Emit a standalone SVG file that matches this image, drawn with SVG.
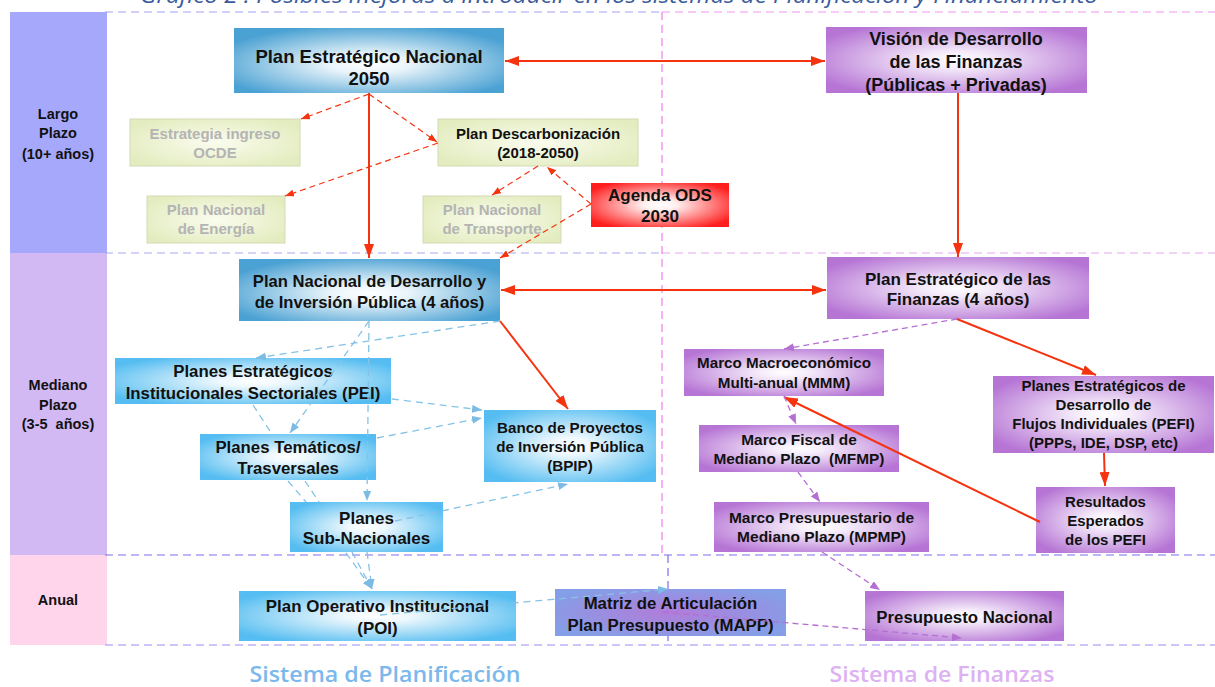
<svg xmlns="http://www.w3.org/2000/svg" width="1215" height="687" viewBox="0 0 1215 687">
<style>
.t{font-family:"Liberation Sans",Arial,sans-serif;font-weight:bold;text-anchor:middle;fill:#111}
.g{fill:#b4b4b4}
.lab{font-family:"Liberation Sans",Arial,sans-serif;font-weight:bold;text-anchor:middle;fill:#111;font-size:14.5px}
.sys{font-family:"Open Sans","Liberation Sans",sans-serif;font-weight:600;font-size:22px;text-anchor:middle}
.rs{stroke:#f5330f;stroke-width:2;fill:none}
.rd{stroke:#f5330f;stroke-width:1.2;fill:none;stroke-dasharray:6 4}
.bd{stroke:#86c2e6;stroke-width:1.3;fill:none;stroke-dasharray:7 5}
.pd{stroke:#b46fd2;stroke-width:1.3;fill:none;stroke-dasharray:6 4}
.gr{stroke:#d5d9b5;stroke-width:1}
</style>
<defs>
<radialGradient id="gBD" cx="0.5" cy="0.55" r="0.6"><stop offset="0" stop-color="#ffffff"/><stop offset="0.25" stop-color="#e9f4fa"/><stop offset="1" stop-color="#4aa1d3"/></radialGradient>
<radialGradient id="gBL" cx="0.5" cy="0.5" r="0.6"><stop offset="0" stop-color="#ffffff"/><stop offset="0.2" stop-color="#eef8fd"/><stop offset="1" stop-color="#55bdf1"/></radialGradient>
<radialGradient id="gP" cx="0.5" cy="0.5" r="0.6"><stop offset="0" stop-color="#ffffff"/><stop offset="0.2" stop-color="#f5ecfa"/><stop offset="1" stop-color="#b675d5"/></radialGradient>
<radialGradient id="gG" cx="0.5" cy="0.5" r="0.6"><stop offset="0" stop-color="#fafcee"/><stop offset="1" stop-color="#e3ecbf"/></radialGradient>
<radialGradient id="gR" cx="0.5" cy="0.5" r="0.6"><stop offset="0" stop-color="#ffffff"/><stop offset="0.2" stop-color="#fff0f0"/><stop offset="1" stop-color="#ff1e1e"/></radialGradient>
<radialGradient id="gM" cx="0.5" cy="0.5" r="0.6"><stop offset="0" stop-color="#b17cd9"/><stop offset="1" stop-color="#849fe7"/></radialGradient>
<marker id="aR" viewBox="0 0 14 10" refX="14" refY="5" markerWidth="14" markerHeight="10" markerUnits="userSpaceOnUse" orient="auto-start-reverse"><path d="M0,0 L14,5 L0,10 z" fill="#f5330f"/></marker>
<marker id="aRd" viewBox="0 0 9 7" refX="9" refY="3.5" markerWidth="9" markerHeight="7" markerUnits="userSpaceOnUse" orient="auto"><path d="M0,0 L9,3.5 L0,7 z" fill="#f5330f"/></marker>
<marker id="aB" viewBox="0 0 10 8" refX="10" refY="4" markerWidth="10" markerHeight="8" markerUnits="userSpaceOnUse" orient="auto"><path d="M0,0 L10,4 L0,8 z" fill="#7cbce4"/></marker>
<marker id="aP" viewBox="0 0 10 8" refX="10" refY="4" markerWidth="10" markerHeight="8" markerUnits="userSpaceOnUse" orient="auto"><path d="M0,0 L10,4 L0,8 z" fill="#b46fd2"/></marker>
</defs>
<rect width="1215" height="687" fill="#ffffff"/>
<text x="619" y="3" font-family="Open Sans, Liberation Sans, sans-serif" font-style="italic" font-size="22" fill="#3a5c9c" text-anchor="middle" textLength="958" lengthAdjust="spacingAndGlyphs">Gráfico 2 : Posibles mejoras a introducir en los sistemas de Planificación y Financiamiento</text>
<g id="bands">
<rect x="10" y="12" width="97" height="241" fill="#a6a8fc"/>
<rect x="10" y="253" width="97" height="302" fill="#d3b9f4"/>
<rect x="10" y="555" width="97" height="90" fill="#ffd5ec"/>
<text class="lab" x="58" y="119">Largo</text>
<text class="lab" x="58" y="138">Plazo</text>
<text class="lab" x="58" y="159">(10+ años)</text>
<text class="lab" x="58" y="390">Mediano</text>
<text class="lab" x="58" y="410">Plazo</text>
<text class="lab" x="58" y="429" xml:space="preserve">(3-5  años)</text>
<text class="lab" x="58" y="605">Anual</text>
</g>
<g id="dividers" fill="none" stroke-width="1.2" stroke-dasharray="8 5">
<path d="M105,12 H662" stroke="#a2a2f6"/>
<path d="M662,12 H1215" stroke="#f096ef"/>
<path d="M105,253 H662" stroke="#a8a6f4"/>
<path d="M662,253 H1215" stroke="#e6a6f0"/>
<path d="M105,555 H1215" stroke="#7b6cee"/>
<path d="M105,645 H1215" stroke="#9a8cf3"/>
<path d="M662,12 V555" stroke="#f07cee"/>
<path d="M668,555 V645" stroke="#7b6cee"/>
</g>
<g id="n-pen"><rect x="234" y="28" width="270" height="65" fill="url(#gBD)"/><text class="t" font-size="18.5" x="369" y="63">Plan Estratégico Nacional</text><text class="t" font-size="18.5" x="369" y="85">2050</text></g>
<g id="n-vision"><rect x="826" y="27" width="261" height="66" fill="url(#gP)"/><text class="t" font-size="18" x="956" y="45">Visión de Desarrollo</text><text class="t" font-size="18" x="956" y="68">de las Finanzas</text><text class="t" font-size="18" x="956" y="91">(Públicas + Privadas)</text></g>
<g id="n-ocde"><rect class="gr" x="130" y="119" width="170" height="47" fill="url(#gG)"/><text class="t g" font-size="15" x="215" y="139">Estrategia ingreso</text><text class="t g" font-size="15" x="215" y="158">OCDE</text></g>
<g id="n-descarb"><rect class="gr" x="438" y="119" width="200" height="47" fill="url(#gG)"/><text class="t" font-size="15" x="538" y="139">Plan Descarbonización</text><text class="t" font-size="15" x="538" y="158">(2018-2050)</text></g>
<g id="n-energia"><rect class="gr" x="147" y="196" width="138" height="47" fill="url(#gG)"/><text class="t g" font-size="15" x="216" y="215">Plan Nacional</text><text class="t g" font-size="15" x="216" y="234">de Energía</text></g>
<g id="n-transporte"><rect class="gr" x="423" y="196" width="138" height="47" fill="url(#gG)"/><text class="t g" font-size="15" x="492" y="215">Plan Nacional</text><text class="t g" font-size="15" x="492" y="234">de Transporte</text></g>
<g id="n-ods"><rect x="591" y="183" width="138" height="44" fill="url(#gR)"/><text class="t" font-size="17" x="660" y="201">Agenda ODS</text><text class="t" font-size="17" x="660" y="222">2030</text></g>
<g id="n-pnd"><rect x="239" y="259" width="261" height="62" fill="url(#gBD)"/><text class="t" font-size="16.6" x="369.5" y="287">Plan Nacional de Desarrollo y</text><text class="t" font-size="16.6" x="369.5" y="308">de Inversión Pública (4 años)</text></g>
<g id="n-pef"><rect x="827" y="257" width="262" height="62" fill="url(#gP)"/><text class="t" font-size="17" x="958" y="285">Plan Estratégico de las</text><text class="t" font-size="17" x="958" y="305">Finanzas (4 años)</text></g>
<g id="n-pei"><rect x="115" y="358" width="276" height="46" fill="url(#gBL)"/><text class="t" font-size="16.8" x="253" y="377">Planes Estratégicos</text><text class="t" font-size="16.8" x="253" y="399">Institucionales Sectoriales (PEI)</text></g>
<g id="n-tematicos"><rect x="200" y="434" width="176" height="46" fill="url(#gBL)"/><text class="t" font-size="16.8" x="288" y="453">Planes Temáticos/</text><text class="t" font-size="16.8" x="288" y="474">Trasversales</text></g>
<g id="n-bpip"><rect x="484" y="410" width="172" height="72" fill="url(#gBL)"/><text class="t" font-size="15.2" x="570" y="433">Banco de Proyectos</text><text class="t" font-size="15.2" x="570" y="452">de Inversión Pública</text><text class="t" font-size="15.2" x="570" y="471">(BPIP)</text></g>
<g id="n-subnac"><rect x="290" y="502" width="153" height="50" fill="url(#gBL)"/><text class="t" font-size="17" x="366.5" y="524">Planes</text><text class="t" font-size="17" x="366.5" y="544">Sub-Nacionales</text></g>
<g id="n-poi"><rect x="239" y="591" width="277" height="50" fill="url(#gBL)"/><text class="t" font-size="16.9" x="377.5" y="612">Plan Operativo Institucional</text><text class="t" font-size="16.9" x="377.5" y="634">(POI)</text></g>
<g id="n-mapp"><rect x="555" y="589" width="231" height="47" fill="url(#gM)"/><text class="t" font-size="16.8" x="670.5" y="609">Matriz de Articulación</text><text class="t" font-size="16.8" x="670.5" y="631">Plan Presupuesto (MAPP)</text></g>
<g id="n-presupuesto"><rect x="865" y="591" width="199" height="50" fill="url(#gP)"/><text class="t" font-size="16.8" x="964.5" y="623">Presupuesto Nacional</text></g>
<g id="n-mmm"><rect x="684" y="349" width="200" height="47" fill="url(#gP)"/><text class="t" font-size="15.2" x="784" y="368">Marco Macroeconómico</text><text class="t" font-size="15.2" x="784" y="388">Multi-anual (MMM)</text></g>
<g id="n-mfmp"><rect x="699" y="425" width="200" height="47" fill="url(#gP)"/><text class="t" font-size="15.4" x="799" y="445">Marco Fiscal de</text><text class="t" font-size="15.4" x="799" y="464" xml:space="preserve">Mediano Plazo  (MFMP)</text></g>
<g id="n-mpmp"><rect x="714" y="502" width="215" height="50" fill="url(#gP)"/><text class="t" font-size="15.5" x="821.5" y="523">Marco Presupuestario de</text><text class="t" font-size="15.5" x="821.5" y="542">Mediano Plazo (MPMP)</text></g>
<g id="n-pefi"><rect x="993" y="376" width="221" height="77" fill="url(#gP)"/><text class="t" font-size="15" x="1103.5" y="391">Planes Estratégicos de</text><text class="t" font-size="15" x="1103.5" y="410">Desarrollo de</text><text class="t" font-size="15" x="1103.5" y="429">Flujos Individuales (PEFI)</text><text class="t" font-size="15" x="1103.5" y="448">(PPPs, IDE, DSP, etc)</text></g>
<g id="n-resultados"><rect x="1036" y="487" width="139" height="66" fill="url(#gP)"/><text class="t" font-size="15" x="1105.5" y="507">Resultados</text><text class="t" font-size="15" x="1105.5" y="526">Esperados</text><text class="t" font-size="15" x="1105.5" y="545">de los PEFI</text></g>
<g id="connectors">
<path class="rs" d="M505,61 H825" marker-start="url(#aR)" marker-end="url(#aR)"/>
<path class="rs" d="M369,93 V258" marker-end="url(#aR)"/>
<path class="rs" d="M958,93 V257" marker-end="url(#aR)"/>
<path class="rs" d="M501,290 H826" marker-start="url(#aR)" marker-end="url(#aR)"/>
<path class="rs" d="M500,321 L568,409" marker-end="url(#aR)"/>
<path class="rs" d="M957,319 L1096,375" marker-end="url(#aR)"/>
<path class="rs" d="M1104,453 L1105,486" marker-end="url(#aR)"/>
<path class="rs" d="M1040,522 L784,397" marker-end="url(#aR)"/>
<path class="rd" d="M369,94 L301,119" marker-end="url(#aRd)"/>
<path class="rd" d="M369,94 L437,142" marker-end="url(#aRd)"/>
<path class="rd" d="M438,143 L285,196" marker-end="url(#aRd)"/>
<path class="rd" d="M538,166 L492,195" marker-end="url(#aRd)"/>
<path class="rd" d="M591,204 L547,167" marker-end="url(#aRd)"/>
<path class="rd" d="M591,204 L500,258" marker-end="url(#aRd)"/>
<path class="bd" d="M500,321 L256,358" marker-end="url(#aB)"/>
<path class="bd" d="M369,321 L290,433" marker-end="url(#aB)"/>
<path class="bd" d="M369,321 L367,501" marker-end="url(#aB)"/>
<path class="bd" d="M392,399 L482,410" marker-end="url(#aB)"/>
<path class="bd" d="M377,438 L482,418" marker-end="url(#aB)"/>
<path class="bd" d="M395,521 L568,484" marker-end="url(#aB)"/>
<path class="bd" d="M253,405 L272,434 M305,481 L319,502 M352,552 L372,589" marker-end="url(#aB)"/>
<path class="bd" d="M288,481 L306,502 M346,553 L372,589" marker-end="url(#aB)"/>
<path class="bd" d="M367,552 L372,589" marker-end="url(#aB)"/>
<path class="bd" d="M380,615 L668,589" marker-end="url(#aB)"/>
<path class="pd" d="M957,319 L784,349" marker-end="url(#aP)"/>
<path class="pd" d="M784,396 L796,424" marker-end="url(#aP)"/>
<path class="pd" d="M798,472 L820,502" marker-end="url(#aP)"/>
<path class="pd" d="M822,552 L880,590" marker-end="url(#aP)"/>
<path class="pd" d="M663,612 L962,638" marker-end="url(#aP)"/>
</g>
<text class="sys" x="385" y="682" fill="#7bb8ec" textLength="271" lengthAdjust="spacingAndGlyphs">Sistema de Planificación</text>
<text class="sys" x="942" y="682" fill="#dcb2f2" textLength="225" lengthAdjust="spacingAndGlyphs">Sistema de Finanzas</text>
</svg>
